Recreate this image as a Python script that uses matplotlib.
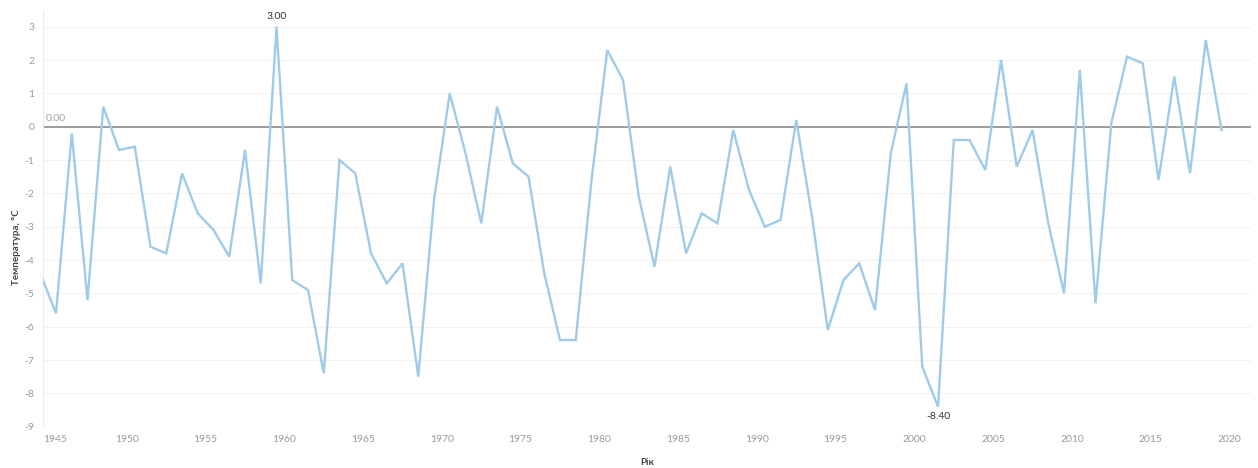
import matplotlib.pyplot as plt
from matplotlib.transforms import ScaledTranslation

plt.rcParams['font.family'] = ['Lato', 'DejaVu Sans']
plt.rcParams['axes.unicode_minus'] = False

# Average temperature by year
years = list(range(1944, 2020))
temps = [
    -4.4, -5.6, -0.2, -5.2, 0.6, -0.7, -0.6, -3.6, -3.8, -1.4,
    -2.6, -3.1, -3.9, -0.7, -4.7, 3.0, -4.6, -4.9, -7.4, -1.0,
    -1.4, -3.8, -4.7, -4.1, -7.5, -2.2, 1.0, -0.8, -2.9, 0.6,
    -1.1, -1.5, -4.4, -6.4, -6.4, -1.6, 2.3, 1.4, -2.1, -4.2,
    -1.2, -3.8, -2.6, -2.9, -0.1, -1.9, -3.0, -2.8, 0.2, -2.7,
    -6.1, -4.6, -4.1, -5.5, -0.8, 1.3, -7.2, -8.4, -0.4, -0.4,
    -1.3, 2.0, -1.2, -0.1, -2.9, -5.0, 1.7, -5.3, 0.1, 2.1,
    1.9, -1.6, 1.5, -1.4, 2.6, -0.1,
]
year_ticks = list(range(1945, 2021, 5))
temp_ticks = list(range(-9, 4))

# points sit in the middle of each year
xs = [y + 0.5 for y in years]

fig = plt.figure(figsize=(12.58, 4.68), dpi=100)
ax = fig.add_axes([0.034, 0.0883, 0.9603, 0.8903])

ax.plot(xs, temps, color='#9fcbe8', lw=1.7, zorder=3, solid_joinstyle='miter')
ax.axhline(0, color='#8c8c8c', lw=1.2, zorder=2)

ax.set_xlim(1944.66, 2021.36)
ax.set_ylim(-9, 3.5)
ax.set_xticks(year_ticks)
ax.set_yticks(temp_ticks)
ax.grid(axis='y', color='#f2f2f2', lw=0.8)
ax.set_axisbelow(True)

for side in ['top', 'right', 'bottom']:
    ax.spines[side].set_visible(False)
ax.spines['left'].set_color('#ececec')
ax.tick_params(length=0, labelsize=7.5, labelcolor='#9a9a9a', pad=6)

first = ax.get_xticklabels()[0]
first.set_horizontalalignment('left')
first.set_transform(first.get_transform() + ScaledTranslation(-0.05, 0, fig.dpi_scale_trans))

ax.set_xlabel('Рік', fontsize=7, fontweight='bold', color='#444444', labelpad=10)
ax.set_ylabel('Температура, °C', fontsize=7, fontweight='bold', color='#444444')
ax.yaxis.set_label_coords(-0.018, 0.43)

# max / min labels and the zero reference label
i_max = temps.index(max(temps))
i_min = temps.index(min(temps))
ax.annotate(f'{temps[i_max]:.2f}', (xs[i_max], temps[i_max]), xytext=(0, 4),
            textcoords='offset points', ha='center', va='bottom', fontsize=7.5, color='#333333')
ax.annotate(f'{temps[i_min]:.2f}', (xs[i_min], temps[i_min]), xytext=(0, -4),
            textcoords='offset points', ha='center', va='top', fontsize=7.5, color='#333333')
ax.annotate('0.00', (1944.66, 0), xytext=(2, 3), textcoords='offset points',
            ha='left', va='bottom', fontsize=7.5, color='#a0a0a0')

fig.savefig('out.png', dpi=100)
